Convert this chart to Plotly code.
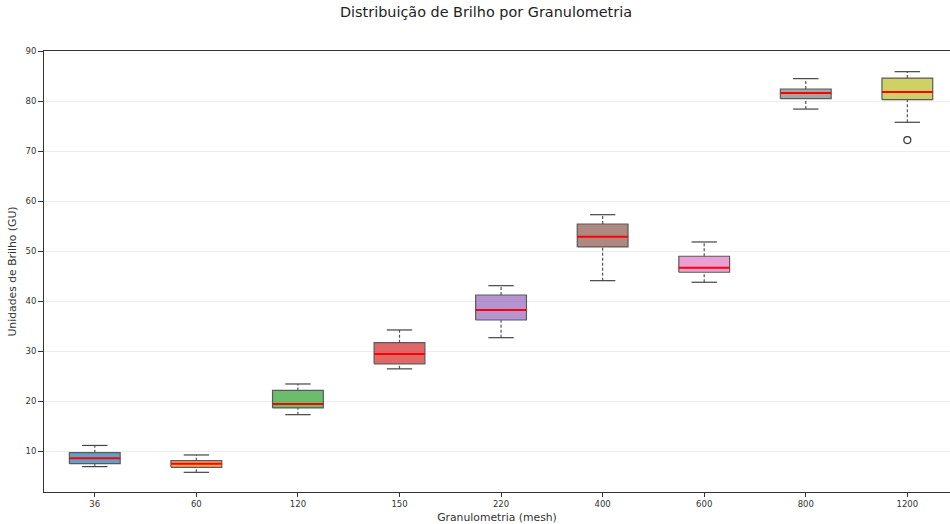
import plotly.graph_objects as go

# Granulometry classes (mesh) and brightness statistics (GU)
mesh = ["36", "60", "120", "150", "220", "400", "600", "800", "1200"]
whisker_low = [6.97, 5.83, 17.35, 26.5, 32.73, 44.12, 43.8, 78.4, 75.76]
q1 = [7.56, 6.83, 18.7, 27.5, 36.26, 50.85, 45.8, 80.48, 80.28]
median = [8.63, 7.56, 19.5, 29.47, 38.26, 52.9, 46.72, 81.6, 81.8]
q3 = [9.76, 8.15, 22.2, 31.73, 41.26, 55.44, 49.0, 82.41, 84.6]
whisker_high = [11.2, 9.3, 23.48, 34.27, 43.12, 57.3, 51.85, 84.48, 85.87]
outlier_mesh = ["1200"]
outlier_value = [72.2]

fills = [
    "rgba(31,119,180,0.7)", "rgba(255,127,14,0.7)", "rgba(44,160,44,0.7)",
    "rgba(214,39,40,0.7)", "rgba(148,103,189,0.7)", "rgba(140,86,75,0.7)",
    "rgba(227,119,194,0.7)", "rgba(127,127,127,0.7)", "rgba(188,189,34,0.7)",
]

BOX_HALF = 0.25
CAP_HALF = 0.125
EDGE = "#5a5a5a"
FONT = "DejaVu Sans"

fig = go.Figure()

for i, name in enumerate(mesh):
    x0, x1 = i - BOX_HALF, i + BOX_HALF
    # box body
    fig.add_trace(go.Scatter(
        x=[x0, x1, x1, x0, x0], y=[q1[i], q1[i], q3[i], q3[i], q1[i]],
        mode="lines", fill="toself", fillcolor=fills[i],
        line=dict(color=EDGE, width=1.2), hoverinfo="skip", showlegend=False))
    # dashed whiskers
    for a, b in ((whisker_low[i], q1[i]), (q3[i], whisker_high[i])):
        fig.add_trace(go.Scatter(
            x=[i, i], y=[a, b], mode="lines",
            line=dict(color="#555555", width=1.2, dash="3px,2px"),
            hoverinfo="skip", showlegend=False))
    # caps
    for v in (whisker_low[i], whisker_high[i]):
        fig.add_trace(go.Scatter(
            x=[i - CAP_HALF, i + CAP_HALF], y=[v, v], mode="lines",
            line=dict(color="#444444", width=1.2),
            hoverinfo="skip", showlegend=False))
    # median
    fig.add_trace(go.Scatter(
        x=[x0, x1], y=[median[i], median[i]], mode="lines",
        line=dict(color="#ff0000", width=2),
        hoverinfo="skip", showlegend=False))

# outliers
fig.add_trace(go.Scatter(
    x=[mesh.index(m) for m in outlier_mesh], y=outlier_value, mode="markers",
    marker=dict(symbol="circle-open", size=7, color="#333333", line=dict(width=1.2)),
    hoverinfo="skip", showlegend=False))

fig.update_layout(
    width=950, height=524,
    margin=dict(l=44, r=0, t=51, b=32),
    paper_bgcolor="white", plot_bgcolor="white",
    font=dict(family=FONT, color="#333333", size=8.5),
    title=dict(text="Distribuição de Brilho por Granulometria",
               x=486 / 950, xref="container", xanchor="center",
               y=1 - 12 / 524, yref="container", yanchor="middle",
               font=dict(size=14.4, family=FONT, color="#222222")),
    xaxis=dict(
        range=[-0.5, 8.42], tickmode="array",
        tickvals=list(range(len(mesh))), ticktext=mesh,
        showgrid=False, zeroline=False,
        showline=True, linecolor="#333333", linewidth=1, mirror=True,
        ticks="outside", ticklen=4, tickcolor="#333333",
        tickfont=dict(size=8.5, family=FONT, color="#333333"),
        title=dict(text="Granulometria (mesh)", standoff=5,
                   font=dict(size=10.8, family=FONT, color="#333333")),
    ),
    yaxis=dict(
        range=[1.9, 90], tickmode="array", tickvals=list(range(10, 91, 10)),
        showgrid=True, gridcolor="rgba(200,200,200,0.35)", gridwidth=1,
        zeroline=False, showline=True, linecolor="#333333", linewidth=1,
        ticks="outside", ticklen=5, tickcolor="#333333",
        tickfont=dict(size=8.5, family=FONT, color="#333333"),
        title=dict(text="Unidades de Brilho (GU)", standoff=6,
                   font=dict(size=10.8, family=FONT, color="#333333")),
    ),
)

fig.write_html("out.html")
